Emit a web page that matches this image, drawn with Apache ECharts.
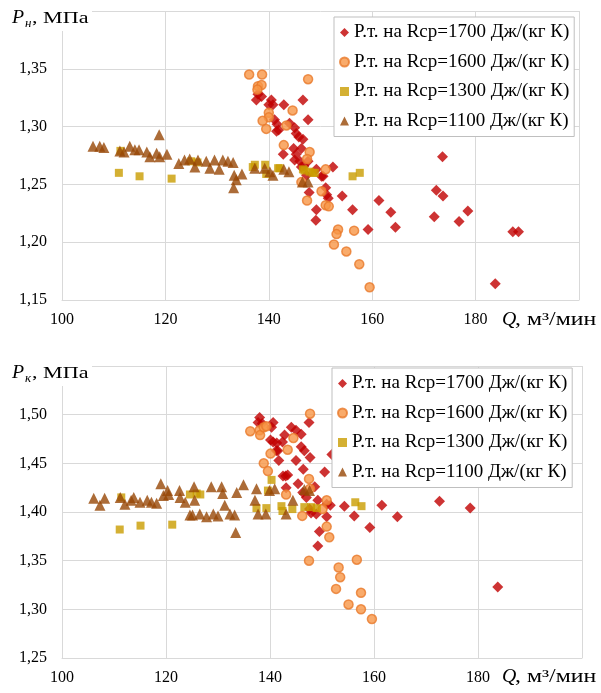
<!DOCTYPE html>
<html><head><meta charset="utf-8">
<script src="https://cdn.jsdelivr.net/npm/echarts@6/dist/echarts.min.js"></script>
<style>html,body{margin:0;padding:0;background:#fff}#c{width:601px;height:693px}</style>
</head><body><div id="c"></div>
<script>
const seriesNames = [
  'Р.т. на Rср=1700 Дж/(кг К)',
  'Р.т. на Rср=1600 Дж/(кг К)',
  'Р.т. на Rср=1300 Дж/(кг К)',
  'Р.т. на Rср=1100 Дж/(кг К)'
];
const xMin = 100, xMax = 200, xStep = 20;
const pnMin = 1.15, pnMax = 1.40, pkMin = 1.25, pkMax = 1.55, pStep = 0.05;

// Upper chart: P_н vs Q
const pn1700 = [[137.6,1.323],[137.9,1.328],[138.6,1.326],[140.5,1.323],[140.8,1.319],[140.0,1.319],[142.9,1.319],[146.6,1.323],[147.6,1.306],[141.1,1.306],[141.6,1.302],[141.5,1.296],[141.9,1.297],[144.0,1.303],[145.0,1.299],[145.3,1.294],[145.8,1.291],[146.6,1.289],[142.8,1.276],[144.8,1.281],[145.3,1.276],[146.3,1.281],[145.0,1.271],[146.0,1.270],[146.3,1.265],[147.6,1.270],[146.8,1.266],[149.2,1.263],[152.4,1.265],[150.2,1.257],[150.5,1.257],[147.3,1.258],[147.8,1.243],[151.0,1.247],[151.2,1.241],[151.5,1.238],[149.2,1.228],[149.1,1.219],[154.2,1.240],[156.2,1.228],[159.2,1.211],[161.3,1.236],[163.6,1.226],[164.5,1.213],[172.0,1.222],[172.4,1.245],[173.7,1.240],[173.6,1.274],[176.8,1.218],[178.5,1.227],[183.8,1.164],[187.2,1.209],[188.3,1.209]];
const pn1600 = [[136.2,1.345],[138.7,1.345],[147.6,1.341],[137.9,1.335],[138.6,1.336],[137.8,1.332],[140.0,1.312],[140.0,1.308],[138.8,1.305],[139.5,1.298],[143.4,1.301],[144.6,1.314],[142.9,1.284],[147.9,1.278],[147.4,1.272],[151.0,1.263],[146.3,1.252],[150.2,1.244],[147.4,1.236],[151.0,1.232],[151.6,1.231],[153.4,1.211],[153.1,1.207],[152.6,1.198],[155.0,1.192],[156.5,1.210],[157.5,1.181],[159.5,1.161]];
const pn1300 = [[111.0,1.260],[115.0,1.257],[121.2,1.255],[111.3,1.279],[125.0,1.270],[126.2,1.269],[136.9,1.265],[137.3,1.267],[139.3,1.267],[139.5,1.259],[141.8,1.264],[142.1,1.264],[146.6,1.263],[146.9,1.262],[147.9,1.261],[148.5,1.260],[148.9,1.260],[156.2,1.257],[157.6,1.260]];
const pn1100 = [[106.0,1.283],[107.3,1.283],[108.1,1.282],[111.2,1.279],[112.0,1.278],[113.1,1.283],[114.1,1.280],[114.9,1.280],[116.4,1.278],[117.0,1.274],[118.3,1.277],[118.8,1.293],[118.9,1.274],[120.3,1.276],[122.6,1.268],[123.7,1.271],[124.7,1.272],[125.7,1.265],[126.3,1.271],[127.9,1.270],[128.6,1.264],[129.5,1.271],[130.4,1.263],[131.1,1.271],[132.1,1.270],[133.1,1.269],[133.3,1.258],[133.7,1.254],[133.2,1.247],[134.8,1.259],[137.3,1.264],[139.2,1.264],[140.2,1.261],[140.8,1.258],[142.9,1.263],[143.9,1.261],[146.5,1.252],[147.6,1.252]];

// Lower chart: P_к vs Q
const pk1700 = [[138.0,1.497],[137.7,1.492],[138.5,1.491],[140.6,1.492],[140.3,1.487],[140.1,1.474],[140.6,1.472],[141.3,1.471],[141.5,1.463],[142.4,1.472],[142.8,1.479],[144.1,1.487],[145.0,1.484],[146.0,1.480],[147.5,1.492],[141.2,1.463],[146.0,1.467],[146.6,1.463],[147.7,1.456],[141.7,1.453],[145.0,1.453],[146.4,1.444],[150.5,1.441],[143.0,1.437],[142.5,1.437],[143.4,1.438],[145.4,1.429],[143.1,1.425],[146.3,1.420],[147.0,1.415],[148.6,1.426],[149.2,1.412],[147.6,1.403],[148.9,1.398],[147.9,1.399],[150.9,1.408],[150.9,1.395],[149.5,1.380],[149.2,1.365],[151.6,1.407],[154.3,1.406],[156.2,1.396],[159.2,1.384],[161.5,1.407],[164.5,1.395],[172.6,1.411],[178.5,1.404],[183.8,1.323],[151.9,1.459]];
const pk1600 = [[147.7,1.501],[136.2,1.483],[138.0,1.484],[138.1,1.479],[138.8,1.487],[139.3,1.488],[144.5,1.476],[143.4,1.464],[140.1,1.460],[138.8,1.450],[139.6,1.442],[147.5,1.434],[147.7,1.424],[143.1,1.418],[146.2,1.396],[150.9,1.412],[150.1,1.403],[150.9,1.385],[151.4,1.374],[147.5,1.350],[153.2,1.343],[153.5,1.333],[152.7,1.321],[155.1,1.305],[156.7,1.351],[157.5,1.317],[157.5,1.300],[159.6,1.290]];
const pk1300 = [[111.1,1.382],[115.1,1.386],[121.2,1.387],[111.4,1.415],[124.6,1.418],[125.9,1.419],[126.6,1.418],[137.4,1.404],[139.3,1.404],[140.3,1.433],[139.6,1.422],[142.2,1.406],[142.4,1.401],[144.3,1.403],[146.6,1.405],[147.9,1.405],[149.0,1.404],[156.4,1.410],[157.6,1.406]];
const pk1100 = [[106.1,1.414],[107.3,1.407],[108.2,1.414],[111.2,1.415],[112.1,1.408],[113.3,1.412],[113.8,1.415],[115.0,1.410],[116.4,1.412],[117.2,1.410],[118.2,1.409],[119.0,1.429],[119.5,1.417],[120.3,1.422],[120.5,1.418],[122.6,1.422],[122.7,1.415],[123.7,1.410],[124.6,1.397],[125.1,1.397],[125.4,1.426],[125.5,1.412],[126.5,1.398],[127.8,1.395],[128.7,1.426],[129.1,1.398],[130.0,1.396],[130.7,1.426],[130.9,1.419],[131.3,1.407],[132.3,1.398],[133.2,1.397],[133.4,1.379],[133.6,1.420],[134.9,1.428],[137.4,1.424],[137.1,1.412],[137.7,1.398],[139.2,1.398],[139.9,1.422],[140.9,1.424],[143.1,1.398],[144.4,1.412],[146.6,1.423],[147.6,1.422]];

const FONT = '"Liberation Serif", "Times New Roman", serif';
const GRID_COLOR = '#d9d9d9';
const styles = [
  {symbol:'diamond', symbolSize:11, itemStyle:{color:'#c00000'}},
  {symbol:'circle', symbolSize:9, itemStyle:{color:'#f79646', borderColor:'#e8792b', borderWidth:1.5}},
  {symbol:'rect', symbolSize:8, itemStyle:{color:'#c99c00'}},
  {symbol:'triangle', symbolSize:11, itemStyle:{color:'#974706'}}
];
const upper = [pn1700, pn1600, pn1300, pn1100];
const lower = [pk1700, pk1600, pk1300, pk1100];

function xAxisFor(gi){
  return {type:'value', gridIndex:gi, min:xMin, max:xMax, interval:xStep,
    axisLine:{show:true, lineStyle:{color:GRID_COLOR}}, axisTick:{show:false},
    splitLine:{show:true, lineStyle:{color:GRID_COLOR}},
    axisLabel:{showMaxLabel:false, margin:12, fontFamily:FONT, fontSize:16, color:'#000'}};
}
function yAxisFor(gi, mn, mx){
  return {type:'value', gridIndex:gi, min:mn, max:mx, interval:pStep,
    axisLine:{show:true, lineStyle:{color:GRID_COLOR}}, axisTick:{show:false},
    splitLine:{show:true, lineStyle:{color:GRID_COLOR}},
    axisLabel:{showMaxLabel:false, margin:15, fontFamily:FONT, fontSize:16, color:'#000',
      formatter: v => v.toFixed(2).replace('.', ',')}};
}
function legendFor(left, top){
  return {orient:'vertical', left:left, top:top, data:seriesNames,
    backgroundColor:'#fff', borderColor:'#bfbfbf', borderWidth:1,
    padding:[6,5,6,5], itemGap:10.5, itemWidth:9, itemHeight:9,
    selectedMode:false,
    textStyle:{fontFamily:FONT, fontSize:19, color:'#000'}};
}
const series = [];
[upper, lower].forEach((set, gi) => {
  set.forEach((data, i) => {
    series.push(Object.assign({type:'scatter', name:seriesNames[i], xAxisIndex:gi, yAxisIndex:gi,
      data:data, emphasis:{disabled:true}, animation:false}, JSON.parse(JSON.stringify(styles[i]))));
  });
});

function axisTitle(y, sub){
  return [
    {type:'rect', z:100, shape:{x:0, y:y-6, width:92, height:27}, style:{fill:'#fff'}},
    {type:'text', z:101, x:12, y:y-1, scaleX:1.1, style:{text:'P', font:'italic 18px ' + FONT, fill:'#000'}},
    {type:'text', z:101, x:25, y:y+7, style:{text:sub, font:'italic 13px ' + FONT, fill:'#000'}},
    {type:'text', z:101, x:32, y:y, scaleX:1.3, style:{text:', МПа', font:'17px ' + FONT, fill:'#000'}}
  ];
}
function qTitle(y){
  return [
    {type:'text', z:101, x:502, y:y, scaleX:1.1, style:{text:'Q', font:'italic 18px ' + FONT, fill:'#000'}},
    {type:'text', z:101, x:515, y:y, scaleX:1.32, style:{text:', м³/мин', font:'18px ' + FONT, fill:'#000'}}
  ];
}

const chart = echarts.init(document.getElementById('c'), null, {renderer:'canvas'});
chart.setOption({
  animation:false,
  backgroundColor:'#fff',
  grid:[
    {left:62, top:11, right:22, height:289},
    {left:62, top:366, right:19, height:292}
  ],
  xAxis:[xAxisFor(0), xAxisFor(1)],
  yAxis:[yAxisFor(0, pnMin, pnMax), yAxisFor(1, pkMin, pkMax)],
  legend:[legendFor(334, 17), legendFor(332, 368)],
  graphic:{elements:[].concat(axisTitle(10, 'н'), axisTitle(365, 'к'), qTitle(311), qTitle(668))},
  series:series
});
</script></body></html>
